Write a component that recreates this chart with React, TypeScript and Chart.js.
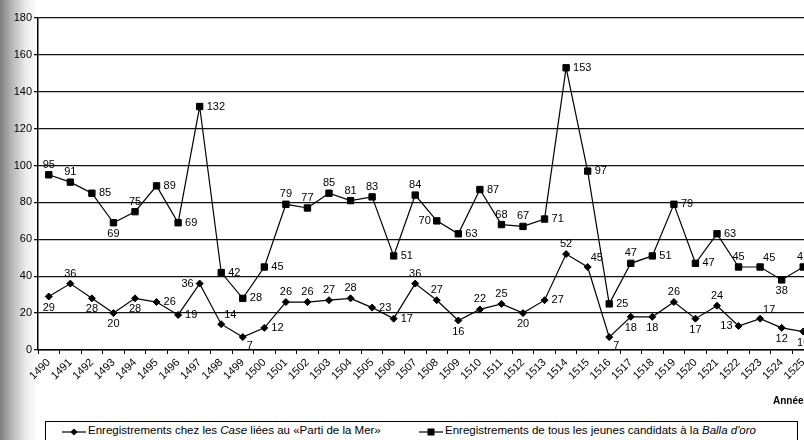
import React, { useEffect, useRef } from "react";
import { Chart, registerables } from "chart.js";

Chart.register(...registerables);

const FONT = "'Liberation Sans', Arial, sans-serif";

const years = [
  "1490", "1491", "1492", "1493", "1494", "1495", "1496", "1497", "1498", "1499", "1500",
  "1501", "1502", "1503", "1504", "1505", "1506", "1507", "1508", "1509", "1510", "1511", "1512",
  "1513", "1514", "1515", "1516", "1517", "1518", "1519", "1520", "1521", "1522", "1523", "1524", "1525",
];

// Enregistrements chez les Case liées au «Parti de la Mer»
const casePartiMer = [
  29, 36, 28, 20, 28, 26, 19, 36, 14, 7, 12,
  26, 26, 27, 28, 23, 17, 36, 27, 16, 22, 25, 20,
  27, 52, 45, 7, 18, 18, 26, 17, 24, 13, 17, 12, 10,
];

// Enregistrements de tous les jeunes candidats à la Balla d'oro
const ballaOro = [
  95, 91, 85, 69, 75, 89, 69, 132, 42, 28, 45,
  79, 77, 85, 81, 83, 51, 84, 70, 63, 87, 68, 67,
  71, 153, 97, 25, 47, 51, 79, 47, 63, 45, 45, 38, 45,
];

const yMin = 0;
const yMax = 180;
const yStep = 20;

// label placement around each point (a = above, b = below, r = right, l = left, ar / br = diagonal)
const caseLabelPlace = [
  "b", "a", "b", "b", "b", "r", "r", "l", "ar", "br", "r",
  "a", "a", "a", "a", "r", "r", "a", "a", "b", "a", "a", "b",
  "r", "a", "ar", "br", "b", "b", "a", "b", "a", "l", "ar", "b", "b",
];
const ballaLabelPlace = [
  "a", "a", "r", "b", "a", "r", "r", "r", "r", "r", "r",
  "a", "a", "a", "a", "a", "r", "a", "l", "r", "r", "a", "a",
  "r", "r", "r", "r", "a", "r", "r", "r", "r", "a", "ar", "b", "a",
];

const pointLabelPlugin = {
  id: "pointLabels",
  afterDatasetsDraw(chart: any) {
    const ctx = chart.ctx;
    ctx.save();
    ctx.font = `11px ${FONT}`;
    ctx.fillStyle = "#000";
    chart.data.datasets.forEach((ds: any, di: number) => {
      const meta = chart.getDatasetMeta(di);
      const place: string[] = ds.labelPlace;
      meta.data.forEach((pt: any, i: number) => {
        const x = pt.x;
        const y = pt.y;
        const p = place[i];
        let tx = x;
        let ty = y;
        ctx.textAlign = "center";
        ctx.textBaseline = "middle";
        if (p === "a") {
          ty = y - 10;
        } else if (p === "b") {
          ty = y + 11;
        } else if (p === "r") {
          tx = x + 7;
          ctx.textAlign = "left";
        } else if (p === "l") {
          tx = x - 6;
          ctx.textAlign = "right";
        } else if (p === "ar") {
          tx = x + 3;
          ty = y - 9;
          ctx.textAlign = "left";
        } else if (p === "br") {
          tx = x + 4;
          ty = y + 9;
          ctx.textAlign = "left";
        }
        ctx.fillText(String(ds.data[i]), tx, ty);
      });
    });
    ctx.restore();
  },
};

function LegendMarker({ kind }: { kind: "diamond" | "square" }) {
  return (
    <svg width={24} height={10} style={{ display: "block" }}>
      <line x1={0} y1={5} x2={24} y2={5} stroke="#000" strokeWidth={1.2} />
      {kind === "diamond" ? (
        <polygon points="12,1.5 15.5,5 12,8.5 8.5,5" fill="#000" />
      ) : (
        <rect x={8.5} y={1.5} width={7} height={7} fill="#000" />
      )}
    </svg>
  );
}

export default function App() {
  const canvasRef = useRef<HTMLCanvasElement | null>(null);

  useEffect(() => {
    if (!canvasRef.current) return;
    const chart = new Chart(canvasRef.current, {
      type: "line",
      data: {
        labels: years,
        datasets: [
          {
            label: "Enregistrements chez les Case liées au «Parti de la Mer»",
            data: casePartiMer,
            borderColor: "#000",
            borderWidth: 1.2,
            pointStyle: "rectRot",
            pointRadius: 3.5,
            pointBackgroundColor: "#000",
            pointBorderColor: "#000",
            pointBorderWidth: 1,
            fill: false,
            tension: 0,
            labelPlace: caseLabelPlace,
          } as any,
          {
            label: "Enregistrements de tous les jeunes candidats à la Balla d'oro",
            data: ballaOro,
            borderColor: "#000",
            borderWidth: 1.2,
            pointStyle: "rect",
            pointRadius: 4.5,
            pointBackgroundColor: "#000",
            pointBorderColor: "#000",
            pointBorderWidth: 1,
            fill: false,
            tension: 0,
            labelPlace: ballaLabelPlace,
          } as any,
        ],
      },
      options: {
        responsive: false,
        animation: false,
        layout: { padding: { top: 18, right: 16, left: 0, bottom: 0 } },
        plugins: {
          legend: { display: false },
          tooltip: { enabled: false },
        },
        scales: {
          x: {
            type: "category",
            offset: true,
            grid: {
              offset: true,
              drawOnChartArea: false,
              drawTicks: true,
              tickLength: 4,
              color: "#000",
              lineWidth: 1,
            },
            border: { color: "#000", width: 1.5 },
            ticks: {
              autoSkip: false,
              maxRotation: 45,
              minRotation: 45,
              padding: 2,
              color: "#000",
              font: { family: FONT, size: 11 },
            },
            afterFit: (s: any) => {
              s.height = 50;
            },
          },
          y: {
            min: yMin,
            max: yMax,
            ticks: {
              stepSize: yStep,
              padding: 2,
              color: "#000",
              font: { family: FONT, size: 11 },
            },
            grid: {
              color: "#111",
              lineWidth: 1.3,
              drawTicks: true,
              tickLength: 4,
            },
            border: { color: "#000", width: 1.5 },
            afterFit: (s: any) => {
              s.width = 38;
            },
          },
        },
      },
      plugins: [pointLabelPlugin],
    } as any);
    return () => chart.destroy();
  }, []);

  return (
    <div
      style={{
        position: "absolute",
        left: 0,
        top: 0,
        width: 804,
        height: 440,
        overflow: "hidden",
        background: "#fff",
        fontFamily: FONT,
      }}
    >
      <div
        style={{
          position: "absolute",
          left: 0,
          top: 0,
          width: 40,
          height: 440,
          background:
            "linear-gradient(to right, rgba(70,70,70,0.7) 0px, rgba(110,110,110,0.5) 12px, rgba(180,180,180,0.25) 26px, rgba(255,255,255,0) 38px)",
        }}
      />
      <canvas
        ref={canvasRef}
        width={830}
        height={400}
        style={{ position: "absolute", left: 0, top: 0 }}
      />
      <div
        style={{
          position: "absolute",
          left: 773,
          top: 395,
          fontSize: 10,
          fontWeight: "bold",
          color: "#000",
          whiteSpace: "nowrap",
        }}
      >
        Années
      </div>
      <div
        style={{
          position: "absolute",
          left: 45,
          top: 421,
          width: 753,
          height: 30,
          border: "1px solid #000",
          boxSizing: "border-box",
          fontSize: 11.5,
          color: "#000",
        }}
      >
        <div style={{ position: "absolute", left: 16, top: 5 }}>
          <LegendMarker kind="diamond" />
        </div>
        <div style={{ position: "absolute", left: 42, top: 2, whiteSpace: "nowrap" }}>
          Enregistrements chez les <i>Case</i> liées au «Parti de la Mer»
        </div>
        <div style={{ position: "absolute", left: 373, top: 5 }}>
          <LegendMarker kind="square" />
        </div>
        <div style={{ position: "absolute", left: 399, top: 2, whiteSpace: "nowrap" }}>
          Enregistrements de tous les jeunes candidats à la <i>Balla d'oro</i>
        </div>
      </div>
    </div>
  );
}
